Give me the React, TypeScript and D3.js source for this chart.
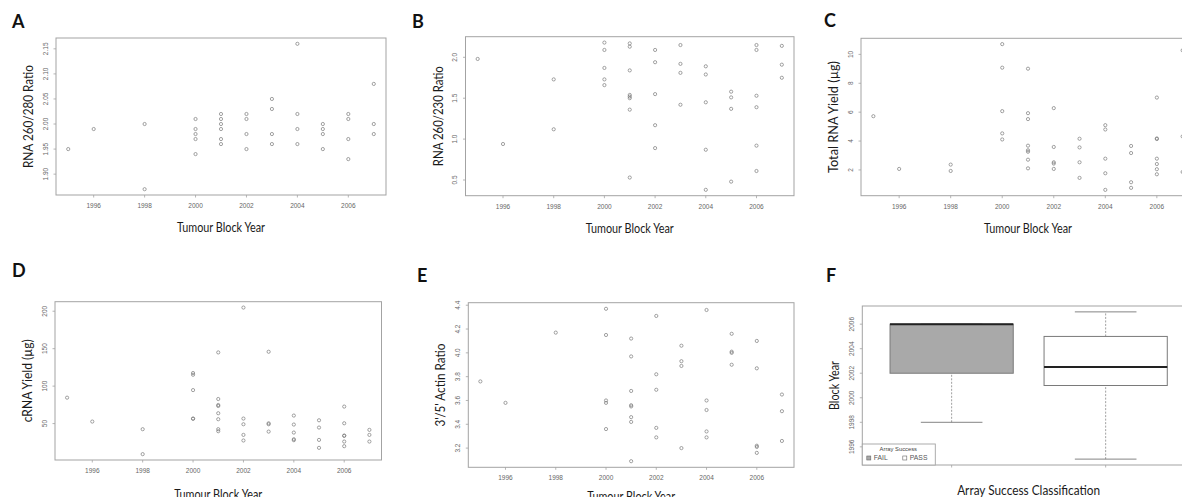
import React from 'react';
import * as d3 from 'd3';

// tumour block years on the x axis of A-E
const yearTicks = [1996, 1998, 2000, 2002, 2004, 2006];

// A: RNA 260/280 ratio
const ratio280 = [
  { year: 1995, values: [1.95] },
  { year: 1996, values: [1.99] },
  { year: 1998, values: [2.0, 1.87] },
  { year: 2000, values: [2.01, 1.99, 1.98, 1.97, 1.94] },
  { year: 2001, values: [2.02, 2.01, 2.0, 1.99, 1.97, 1.96] },
  { year: 2002, values: [2.02, 2.01, 1.98, 1.95] },
  { year: 2003, values: [2.05, 2.03, 1.98, 1.96] },
  { year: 2004, values: [2.16, 2.02, 1.99, 1.96] },
  { year: 2005, values: [2.0, 1.99, 1.98, 1.95] },
  { year: 2006, values: [2.02, 2.01, 1.97, 1.93] },
  { year: 2007, values: [2.08, 2.0, 1.98] },
];
const ratio280Ticks = [1.9, 1.95, 2.0, 2.05, 2.1, 2.15];

// B: RNA 260/230 ratio
const ratio230 = [
  { year: 1995, values: [1.98] },
  { year: 1996, values: [0.94] },
  { year: 1998, values: [1.73, 1.12] },
  { year: 2000, values: [2.18, 2.09, 1.87, 1.73, 1.66] },
  { year: 2001, values: [2.17, 2.13, 1.84, 1.54, 1.52, 1.5, 1.36, 0.53] },
  { year: 2002, values: [2.09, 1.94, 1.55, 1.17, 0.89] },
  { year: 2003, values: [2.15, 1.92, 1.81, 1.42] },
  { year: 2004, values: [1.89, 1.79, 1.45, 0.87, 0.38] },
  { year: 2005, values: [1.58, 1.51, 1.37, 0.48] },
  { year: 2006, values: [2.15, 2.09, 1.53, 1.39, 0.92, 0.61] },
  { year: 2007, values: [2.14, 1.91, 1.75] },
];
const ratio230Ticks = [0.5, 1.0, 1.5, 2.0];

// C: total RNA yield (ug)
const rnaYield = [
  { year: 1995, values: [5.72] },
  { year: 1996, values: [2.07] },
  { year: 1998, values: [2.37, 1.93] },
  { year: 2000, values: [10.71, 9.08, 6.07, 4.53, 4.11] },
  { year: 2001, values: [9.01, 5.93, 5.52, 3.68, 3.36, 3.26, 2.71, 2.11] },
  { year: 2002, values: [6.28, 3.59, 2.53, 2.44, 2.07] },
  { year: 2003, values: [4.16, 3.56, 2.53, 1.45] },
  { year: 2004, values: [5.1, 4.8, 2.78, 1.77, 0.62] },
  { year: 2005, values: [3.66, 3.17, 1.15, 0.76] },
  { year: 2006, values: [7.01, 4.18, 4.14, 2.78, 2.41, 2.05, 1.7] },
  { year: 2007, values: [10.28, 4.32, 1.86] },
];
const rnaYieldTicks = [2, 4, 6, 8, 10];

// D: cRNA yield (ug)
const crnaYield = [
  { year: 1995, values: [84.6] },
  { year: 1996, values: [52.7] },
  { year: 1998, values: [42.5, 9.2] },
  { year: 2000, values: [117.5, 115.2, 94.7, 56.7, 56.4] },
  { year: 2001, values: [145, 82.8, 74.8, 73.5, 63.8, 55.8, 42.5, 39.8] },
  { year: 2002, values: [204.9, 56.7, 49.1, 34.9, 27.4] },
  { year: 2003, values: [145.9, 50.4, 49.1, 39.3] },
  { year: 2004, values: [60.7, 48.7, 38.0, 29.1, 27.8] },
  { year: 2005, values: [54.4, 44.7, 28.2, 17.6] },
  { year: 2006, values: [72.7, 50.4, 34.0, 33.6, 26.0, 19.8] },
  { year: 2007, values: [41.6, 34.9, 26.0] },
];
const crnaYieldTicks = [50, 100, 150, 200];

// E: 3'/5' actin ratio
const actinRatio = [
  { year: 1995, values: [3.76] },
  { year: 1996, values: [3.58] },
  { year: 1998, values: [4.17] },
  { year: 2000, values: [4.37, 4.15, 3.6, 3.58, 3.36] },
  { year: 2001, values: [4.12, 3.97, 3.68, 3.56, 3.55, 3.46, 3.42, 3.09] },
  { year: 2002, values: [4.31, 3.82, 3.69, 3.37, 3.29] },
  { year: 2003, values: [4.06, 3.93, 3.89, 3.2] },
  { year: 2004, values: [4.36, 3.6, 3.52, 3.34, 3.29] },
  { year: 2005, values: [4.16, 4.01, 4.0, 3.9] },
  { year: 2006, values: [4.1, 3.87, 3.22, 3.21, 3.16] },
  { year: 2007, values: [3.65, 3.51, 3.26] },
];
const actinRatioTicks = [3.2, 3.4, 3.6, 3.8, 4.0, 4.2, 4.4];

// F: block year by array success (whisker low, Q1, median, Q3, whisker high)
const successClasses = ['FAIL', 'PASS'];
const failStats = [1998, 2002, 2006, 2006, 2006];
const passStats = [1995, 2001, 2002.5, 2005, 2007];
const blockYearTicks = [1996, 1998, 2000, 2002, 2004, 2006];

const TITLE_FONT = "Lato, 'Open Sans', sans-serif";
const TICK_FONT = "'Liberation Sans', Arial, sans-serif";
const FRAME = '#a3a3a3';

// R pads the data range by 4% on each side
const rRange = (ext) => {
  const pad = (ext[1] - ext[0]) * 0.04;
  return [ext[0] - pad, ext[1] + pad];
};

const Letter = ({ x, y, children }) => (
  <text x={x} y={y} fontFamily={TITLE_FONT} fontWeight="bold" fontSize={18} fill="#111">
    {children}
  </text>
);

const YTitle = ({ box, text, len }) => (
  <text
    transform={`translate(${box.x0 - 28},${(box.y0 + box.y1) / 2}) rotate(-90)`}
    textAnchor="middle"
    dy="0.36em"
    fontFamily={TITLE_FONT}
    fontSize={14}
    fill="#1a1a1a"
    textLength={len}
    lengthAdjust="spacingAndGlyphs"
  >
    {text}
  </text>
);

const YAxis = ({ box, y, ticks, fmt }) => (
  <g>
    {ticks.map((t) => (
      <g key={t}>
        <line x1={box.x0 - 2.5} x2={box.x0} y1={y(t)} y2={y(t)} stroke={FRAME} strokeWidth={0.8} />
        <text
          transform={`translate(${box.x0 - 8.5},${y(t)}) rotate(-90)`}
          textAnchor="middle"
          fontFamily={TICK_FONT}
          fontSize={6.5}
          fill="#666"
        >
          {fmt(t)}
        </text>
      </g>
    ))}
  </g>
);

const Scatter = ({ box, letter, data, yTicks, fmt, yTitle, yTitleLen, xTitleGap }) => {
  const pts = data.flatMap((d) => d.values.map((v) => ({ year: d.year, v })));
  const x = d3.scaleLinear().domain(rRange(d3.extent(pts, (p) => p.year))).range([box.x0, box.x1]);
  const y = d3.scaleLinear().domain(rRange(d3.extent(pts, (p) => p.v))).range([box.y1, box.y0]);
  return (
    <g>
      <Letter x={letter.x} y={letter.y}>{letter.text}</Letter>
      <rect x={box.x0} y={box.y0} width={box.x1 - box.x0} height={box.y1 - box.y0} fill="none" stroke={FRAME} strokeWidth={1} />
      {yearTicks.map((t) => (
        <g key={t}>
          <line x1={x(t)} x2={x(t)} y1={box.y1} y2={box.y1 + 2.5} stroke={FRAME} strokeWidth={0.8} />
          <text x={x(t)} y={box.y1 + 13} textAnchor="middle" fontFamily={TICK_FONT} fontSize={6.5} fill="#666">
            {t}
          </text>
        </g>
      ))}
      <YAxis box={box} y={y} ticks={yTicks} fmt={fmt} />
      {pts.map((p, i) => (
        <circle key={i} cx={x(p.year)} cy={y(p.v)} r={1.6} fill="none" stroke="#7a7a7a" strokeWidth={0.7} />
      ))}
      <text
        x={(box.x0 + box.x1) / 2}
        y={box.y1 + xTitleGap}
        textAnchor="middle"
        fontFamily={TITLE_FONT}
        fontSize={14}
        fill="#1a1a1a"
        textLength={88}
        lengthAdjust="spacingAndGlyphs"
      >
        Tumour Block Year
      </text>
      <YTitle box={box} text={yTitle} len={yTitleLen} />
    </g>
  );
};

const BoxPanel = ({ box, letter }) => {
  const groups = [failStats, passStats];
  const x = d3.scaleLinear().domain(rRange([0.5, successClasses.length + 0.5])).range([box.x0, box.x1]);
  const y = d3.scaleLinear().domain(rRange(d3.extent(groups.flat()))).range([box.y1, box.y0]);
  const half = x(1.4) - x(1);
  const staple = x(1.2) - x(1);
  const fills = ['#a9a9a9', '#ffffff'];
  return (
    <g>
      <Letter x={letter.x} y={letter.y}>{letter.text}</Letter>
      {groups.map((s, i) => {
        const cx = x(i + 1);
        return (
          <g key={successClasses[i]}>
            <line x1={cx} x2={cx} y1={y(s[0])} y2={y(s[1])} stroke="#888" strokeWidth={0.8} strokeDasharray="2,1.5" />
            <line x1={cx} x2={cx} y1={y(s[3])} y2={y(s[4])} stroke="#888" strokeWidth={0.8} strokeDasharray="2,1.5" />
            <line x1={cx - staple} x2={cx + staple} y1={y(s[0])} y2={y(s[0])} stroke="#777" strokeWidth={0.9} />
            <line x1={cx - staple} x2={cx + staple} y1={y(s[4])} y2={y(s[4])} stroke="#777" strokeWidth={0.9} />
            <rect x={cx - half} y={y(s[3])} width={half * 2} height={y(s[1]) - y(s[3])} fill={fills[i]} stroke="#7a7a7a" strokeWidth={1} />
            <line x1={cx - half} x2={cx + half} y1={y(s[2])} y2={y(s[2])} stroke="#222" strokeWidth={2} />
            <line x1={cx} x2={cx} y1={box.y1} y2={box.y1 + 2.5} stroke={FRAME} strokeWidth={0.8} />
          </g>
        );
      })}
      <rect x={box.x0} y={box.y0} width={box.x1 - box.x0} height={box.y1 - box.y0} fill="none" stroke={FRAME} strokeWidth={1} />
      <YAxis box={box} y={y} ticks={blockYearTicks} fmt={(d) => String(d)} />
      <YTitle box={box} text="Block Year" len={49} />
      <text
        x={(box.x0 + box.x1) / 2}
        y={box.y1 + 30}
        textAnchor="middle"
        fontFamily={TITLE_FONT}
        fontSize={14}
        fill="#1a1a1a"
        textLength={143}
        lengthAdjust="spacingAndGlyphs"
      >
        Array Success Classification
      </text>
      {/* legend, bottom-left inside the frame */}
      <g>
        <rect x={box.x0} y={box.y1 - 21} width={73} height={21} fill="#fff" stroke={FRAME} strokeWidth={0.9} />
        <text x={box.x0 + 36} y={box.y1 - 14} textAnchor="middle" fontFamily={TICK_FONT} fontSize={5.8} fill="#444">
          Array Success
        </text>
        {successClasses.map((c, i) => (
          <g key={c} transform={`translate(${box.x0 + 6.5 + i * 36},${box.y1 - 7})`}>
            <rect x={-2} y={-2} width={4} height={4} fill={fills[i]} stroke="#666" strokeWidth={0.6} />
            <text x={5} y={2.3} fontFamily={TICK_FONT} fontSize={6.8} fill="#555">
              {c}
            </text>
          </g>
        ))}
      </g>
    </g>
  );
};

const f2 = d3.format('.2f');
const f1 = d3.format('.1f');
const f0 = (d) => String(d);

export default function App() {
  return (
    <svg
      width={1182}
      height={497}
      style={{ position: 'absolute', left: 0, top: 0, background: '#fff' }}
    >
      <Scatter
        box={{ x0: 56, x1: 386, y0: 38, y1: 195 }}
        letter={{ x: 12, y: 28, text: 'A' }}
        data={ratio280}
        yTicks={ratio280Ticks}
        fmt={f2}
        yTitle="RNA 260/280 Ratio"
        yTitleLen={103}
        xTitleGap={37}
      />
      <Scatter
        box={{ x0: 465.5, x1: 794, y0: 36.7, y1: 195.7 }}
        letter={{ x: 412, y: 28, text: 'B' }}
        data={ratio230}
        yTicks={ratio230Ticks}
        fmt={f1}
        yTitle="RNA 260/230 Ratio"
        yTitleLen={100}
        xTitleGap={37}
      />
      <Scatter
        box={{ x0: 861, x1: 1195, y0: 38.3, y1: 195.7 }}
        letter={{ x: 824, y: 27, text: 'C' }}
        data={rnaYield}
        yTicks={rnaYieldTicks}
        fmt={f0}
        yTitle="Total RNA Yield (µg)"
        yTitleLen={112}
        xTitleGap={37}
      />
      <Scatter
        box={{ x0: 55, x1: 381.5, y0: 301.7, y1: 460 }}
        letter={{ x: 12, y: 277, text: 'D' }}
        data={crnaYield}
        yTicks={crnaYieldTicks}
        fmt={f0}
        yTitle="cRNA Yield (µg)"
        yTitleLen={83}
        xTitleGap={39}
      />
      <Scatter
        box={{ x0: 468.3, x1: 794, y0: 302.7, y1: 467.3 }}
        letter={{ x: 417, y: 282, text: 'E' }}
        data={actinRatio}
        yTicks={actinRatioTicks}
        fmt={f1}
        yTitle="3'/5' Actin Ratio"
        yTitleLen={83}
        xTitleGap={34}
      />
      <BoxPanel box={{ x0: 862.3, x1: 1195, y0: 306, y1: 465 }} letter={{ x: 826, y: 282, text: 'F' }} />
    </svg>
  );
}
